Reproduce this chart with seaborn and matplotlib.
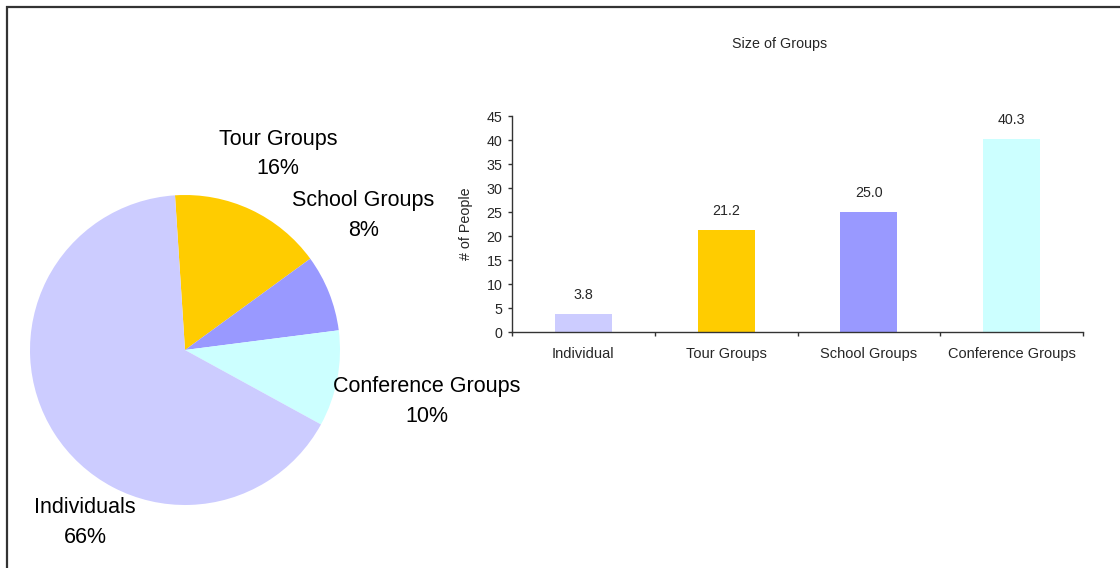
import matplotlib
matplotlib.use("Agg")
import matplotlib.pyplot as plt
from matplotlib.lines import Line2D
from matplotlib.ticker import FixedLocator
import numpy as np
import pandas as pd
import seaborn as sns

# Share of visitors by group type (pie)
pie_labels = ["Tour Groups", "School Groups", "Conference Groups", "Individuals"]
pie_shares = [16, 8, 10, 66]
pie_colors = ["#FFCC00", "#9999FF", "#CCFFFF", "#CCCCFF"]

# Average size of each group type (bars)
bar_categories = ["Individual", "Tour Groups", "School Groups", "Conference Groups"]
bar_sizes = [3.8, 21.2, 25.0, 40.3]
bar_colors = ["#CCCCFF", "#FFCC00", "#9999FF", "#CCFFFF"]
y_ticks = list(range(0, 50, 5))

sns.set_style("white")
plt.rcParams["font.family"] = ["Liberation Sans", "DejaVu Sans"]

W, H = 1120, 568
fig = plt.figure(figsize=(W / 100, H / 100), dpi=100)

# ---- pie chart ----
cx, cy, r = 185, 350, 155
ax_pie = fig.add_axes([(cx - r) / W, (H - cy - r) / H, 2 * r / W, 2 * r / H])
ax_pie.pie(pie_shares, colors=pie_colors, startangle=93.7, counterclock=False,
           wedgeprops=dict(linewidth=0))
ax_pie.set_xlim(-1, 1)
ax_pie.set_ylim(-1, 1)
ax_pie.set_aspect("equal")
ax_pie.axis("off")

label_pos = {
    "Tour Groups": (0.60, 1.265),
    "School Groups": (1.15, 0.87),
    "Conference Groups": (1.56, -0.33),
    "Individuals": (-0.645, -1.115),
}
total = sum(pie_shares)
for name, share in zip(pie_labels, pie_shares):
    x, y = label_pos[name]
    ax_pie.text(x, y, f"{name}\n{share / total * 100:.0f}%", ha="center", va="center",
                fontsize=15.5, linespacing=1.55, color="black")

# ---- bar chart ----
left, right, bottom, top = 512, 1083, 332, 116
ax_bar = fig.add_axes([left / W, (H - bottom) / H, (right - left) / W, (bottom - top) / H])
df = pd.DataFrame({"category": bar_categories, "size": bar_sizes})
sns.barplot(data=df, x="category", y="size", hue="category", palette=bar_colors,
            saturation=1, width=0.4, legend=False, ax=ax_bar, linewidth=0)
ax_bar.set_xlim(-0.5, len(bar_categories) - 0.5)
ax_bar.set_ylim(0, 45)
ax_bar.set_yticks(y_ticks)
ax_bar.set_xlabel("")
ax_bar.set_ylabel("# of People", fontsize=10.3, labelpad=10)
for i, v in enumerate(bar_sizes):
    ax_bar.annotate(f"{v:.1f}", (i, v), xytext=(0, 8.5), textcoords="offset points",
                    ha="center", va="bottom", fontsize=10.3)

for side in ("top", "right"):
    ax_bar.spines[side].set_visible(False)
for side in ("left", "bottom"):
    ax_bar.spines[side].set_color("#333333")
    ax_bar.spines[side].set_linewidth(1.0)

ax_bar.tick_params(axis="y", which="major", direction="out", length=3, width=1,
                   color="#333333", pad=4, labelsize=10.3, left=True)
ax_bar.tick_params(axis="x", which="major", length=0, pad=11, labelsize=10.5)
ax_bar.xaxis.set_minor_locator(FixedLocator(np.arange(-0.5, len(bar_categories), 1.0)))
ax_bar.tick_params(axis="x", which="minor", direction="out", length=3, width=1,
                   color="#333333", bottom=True)

fig.text(780 / W, 1 - 44 / H, "Size of Groups", ha="center", va="center", fontsize=10.3)

# chart frame (top and left edges)
fig.add_artist(Line2D([6 / W, 1], [1 - 6.5 / H, 1 - 6.5 / H], transform=fig.transFigure,
                      color="#333333", linewidth=1.6, solid_capstyle="butt"))
fig.add_artist(Line2D([6.5 / W, 6.5 / W], [0, 1 - 6 / H], transform=fig.transFigure,
                      color="#333333", linewidth=1.6, solid_capstyle="butt"))

fig.savefig("out.png", dpi=100)
